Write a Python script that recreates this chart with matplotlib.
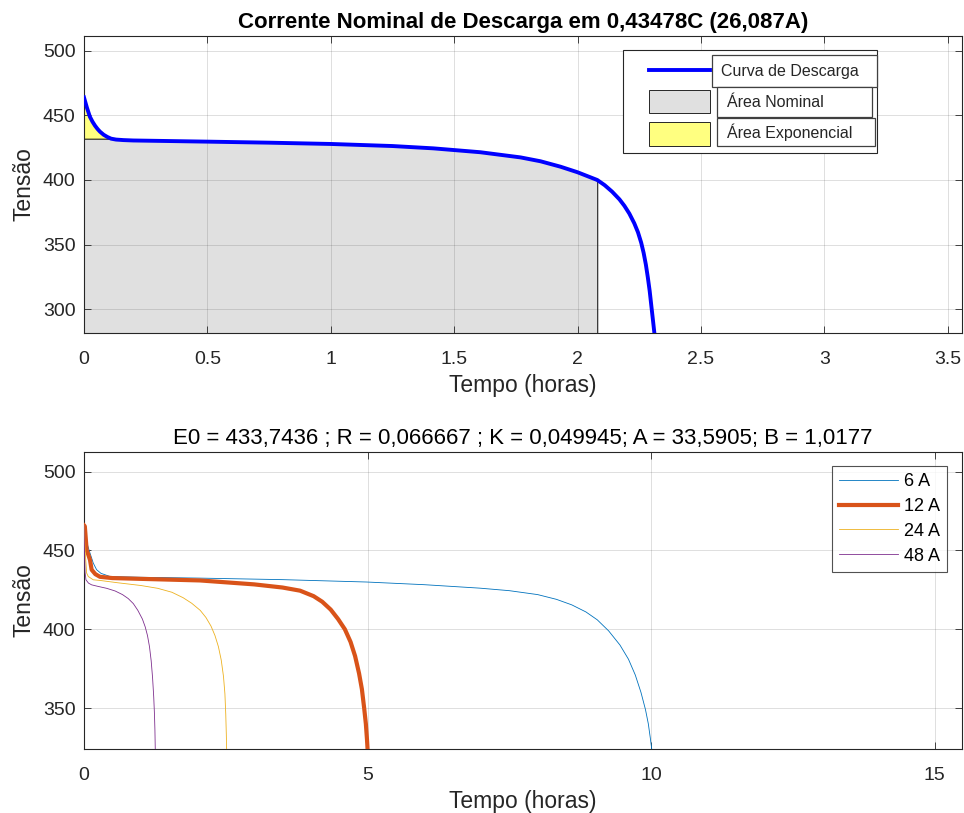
import matplotlib
matplotlib.use("Agg")

import matplotlib.pyplot as plt
import numpy as np
from matplotlib.lines import Line2D
from matplotlib.patches import Rectangle
from matplotlib.ticker import FormatStrFormatter, MultipleLocator

plt.rcParams["font.family"] = ["Liberation Sans", "DejaVu Sans"]

# nominal discharge curve at 26.087 A (hours, volts)
t_nom_curve = [0, 0.012, 0.024, 0.035, 0.045, 0.055, 0.065, 0.08, 0.095, 0.11,
               0.13, 0.16, 0.2, 0.3, 0.5, 0.75, 1.0, 1.25, 1.416, 1.606,
               1.769, 1.85, 1.931, 2.0, 2.08, 2.11, 2.14, 2.17, 2.19, 2.21,
               2.23, 2.245, 2.258, 2.268, 2.277, 2.285, 2.2925, 2.2995, 2.306,
               2.3115]
v_nom_curve = [464, 456, 449, 445, 442, 439.5, 437.4, 435, 433.3, 432,
               431.3, 430.9, 430.6, 430.3, 429.7, 428.9, 427.9, 426.3, 424.5, 421.5,
               417.5, 414.5, 410.3, 406, 400, 396, 391, 385, 380, 374,
               366.5, 359.5, 351.5, 343.5, 334.5, 324.5, 314, 302, 291,
               281.5]
t_exp, v_exp = 0.11, 432.0     # end of exponential zone
t_nom, v_nom = 2.08, 400.0     # end of nominal zone

# discharge curves at several currents
t_6a = [0, 0.05, 0.106, 0.164, 0.223, 0.3, 0.458, 1.0, 2.0, 3.5, 4.98, 6.0,
        6.98, 7.5, 8.0, 8.33, 8.6, 8.85, 9.05, 9.25, 9.45, 9.6, 9.72, 9.82,
        9.9, 9.95, 9.985, 10.01]
v_6a = [465.8, 455, 448.4, 442, 437.8, 435.5, 433.5, 433, 432.5, 431.5, 430, 428.3,
        426.1, 424.5, 422, 419, 415.5, 411, 406, 399, 390, 381, 371, 360,
        349, 340, 331, 324]
t_12a = [0, 0.015, 0.047, 0.106, 0.135, 0.2, 0.282, 0.5, 1.0, 2.045, 3.0, 3.5,
         3.81, 4.05, 4.2, 4.35, 4.48, 4.6, 4.7, 4.78, 4.85, 4.9, 4.94, 4.97,
         4.99, 5.0]
v_12a = [466, 465.4, 450.5, 444.1, 437.8, 435, 433.3, 432.5, 432, 431, 428.5, 426.5,
         424.5, 421, 417.5, 412.5, 406.5, 400, 392, 383, 372, 362, 350, 340,
         330, 324]
t_24a = [0, 0.02, 0.047, 0.076, 0.164, 0.282, 0.6, 1.0, 1.3, 1.55, 1.75, 1.9,
         2.05, 2.15, 2.24, 2.31, 2.37, 2.42, 2.46, 2.485, 2.5, 2.51, 2.515]
v_24a = [466, 450, 435.7, 433.5, 431.4, 431, 429.5, 427.8, 426, 423.5, 420, 416.5,
         412, 407.5, 402, 396, 389, 380.5, 370, 359, 346, 333, 324]
t_48a = [0, 0.008, 0.02, 0.035, 0.08, 0.135, 0.25, 0.4, 0.55, 0.68, 0.78, 0.87,
         0.95, 1.03, 1.08, 1.12, 1.155, 1.185, 1.21, 1.23, 1.243, 1.251, 1.257]
v_48a = [466, 450, 436, 431.4, 429.3, 428.2, 427.2, 426, 424.3, 422, 419.5, 416.3,
         412, 406.5, 401.5, 396, 389, 380, 369, 357, 346, 336, 324]

currents = ["6 A", "12 A", "24 A", "48 A"]
colors = ["#0072BD", "#D95319", "#EDB120", "#7E2F8E"]
widths = [0.6, 3.0, 0.6, 0.6]

AX_EDGE = "#262626"


def style_axes(ax):
    ax.tick_params(direction="in", top=True, right=True, length=5, width=0.6,
                   colors=AX_EDGE, labelsize=14)
    ax.tick_params(axis="x", pad=13)
    ax.tick_params(axis="y", pad=6)
    for s in ax.spines.values():
        s.set_color(AX_EDGE)
        s.set_linewidth(0.8)
    ax.grid(True, color=(0.15, 0.15, 0.15), alpha=0.15, linewidth=0.7)
    ax.set_axisbelow(False)
    ax.xaxis.set_major_formatter(FormatStrFormatter("%g"))


fig = plt.figure(figsize=(9.64, 8.13), dpi=100)
ax1 = fig.add_axes([0.0871, 0.5904, 0.9108, 0.3653])
ax2 = fig.add_axes([0.0871, 0.0787, 0.9108, 0.3653])

# --- top: nominal current with nominal/exponential areas ---
t_arr = np.array(t_nom_curve)
v_arr = np.array(v_nom_curve)
in_nom = t_arr <= t_nom
in_exp = t_arr <= t_exp
ax1.fill_between(t_arr[in_nom], 0, v_arr[in_nom], facecolor="#E0E0E0",
                 edgecolor="black", linewidth=0.7, zorder=1)
ax1.fill_between(t_arr[in_exp], v_exp, v_arr[in_exp], facecolor="#FFFF80",
                 edgecolor="black", linewidth=0.7, zorder=1.5)
ax1.plot(t_arr, v_arr, color="blue", linewidth=2.8, zorder=3)

ax1.set_xlim(0, 3.558)
ax1.set_ylim(281.5, 511.5)
ax1.xaxis.set_major_locator(MultipleLocator(0.5))
ax1.yaxis.set_major_locator(MultipleLocator(50))
style_axes(ax1)
ax1.set_title("Corrente Nominal de Descarga em 0,43478C (26,087A)",
              fontsize=16, fontweight="bold", color="black", pad=6)
ax1.set_xlabel("Tempo (horas)", fontsize=16.5, color=AX_EDGE, labelpad=4)
ax1.set_ylabel("Tensão", fontsize=16.5, color=AX_EDGE, labelpad=5)

# legend box drawn by hand, with the framed labels
tr = ax1.transAxes
ax1.add_patch(Rectangle((0.614, 0.606), 0.289, 0.347, transform=tr,
                        facecolor="white", edgecolor=AX_EDGE, linewidth=0.8, zorder=5))
ax1.add_line(Line2D([0.6435, 0.713], [0.8855, 0.8855], transform=tr,
                    color="blue", linewidth=2.8, zorder=6))
ax1.add_patch(Rectangle((0.6435, 0.741), 0.0695, 0.077, transform=tr,
                        facecolor="#E0E0E0", edgecolor=AX_EDGE, linewidth=0.7, zorder=6))
ax1.add_patch(Rectangle((0.6435, 0.630), 0.0695, 0.080, transform=tr,
                        facecolor="#FFFF80", edgecolor=AX_EDGE, linewidth=0.7, zorder=6))
legend_boxes = [
    ("Curva de Descarga", 0.715, 0.828, 0.188, 0.108),
    ("Área Nominal", 0.721, 0.727, 0.1765, 0.101),
    ("Área Exponencial", 0.721, 0.630, 0.180, 0.094),
]
for label, x0, y0, w, h in legend_boxes:
    ax1.add_patch(Rectangle((x0, y0), w, h, transform=tr, facecolor="white",
                            edgecolor="#404040", linewidth=0.9, zorder=7))
    ax1.text(x0 + 0.011, y0 + h / 2, label, transform=tr, fontsize=11.5,
             color=AX_EDGE, va="center", ha="left", zorder=8)

# --- bottom: discharge at several currents ---
series = [(t_6a, v_6a), (t_12a, v_12a), (t_24a, v_24a), (t_48a, v_48a)]
for (t, v), lab, c, lw in zip(series, currents, colors, widths):
    ax2.plot(t, v, color=c, linewidth=lw, label=lab, zorder=3)

ax2.set_xlim(0, 15.48)
ax2.set_ylim(324, 512.5)
ax2.xaxis.set_major_locator(MultipleLocator(5))
ax2.yaxis.set_major_locator(MultipleLocator(50))
style_axes(ax2)
ax2.set_title("E0 = 433,7436 ; R = 0,066667 ; K = 0,049945; A = 33,5905; B = 1,0177",
              fontsize=16, color="black", pad=6)
ax2.set_xlabel("Tempo (horas)", fontsize=16.5, color=AX_EDGE, labelpad=4)
ax2.set_ylabel("Tensão", fontsize=16.5, color=AX_EDGE, labelpad=5)
leg = ax2.legend(loc="upper right", bbox_to_anchor=(0.983, 0.953), fontsize=13,
                 frameon=True, fancybox=False, edgecolor=AX_EDGE, handlelength=3.3,
                 handletextpad=0.3, labelspacing=0.43, borderpad=0.4,
                 borderaxespad=0)
leg.get_frame().set_linewidth(0.8)

fig.savefig("out.png", dpi=100)
